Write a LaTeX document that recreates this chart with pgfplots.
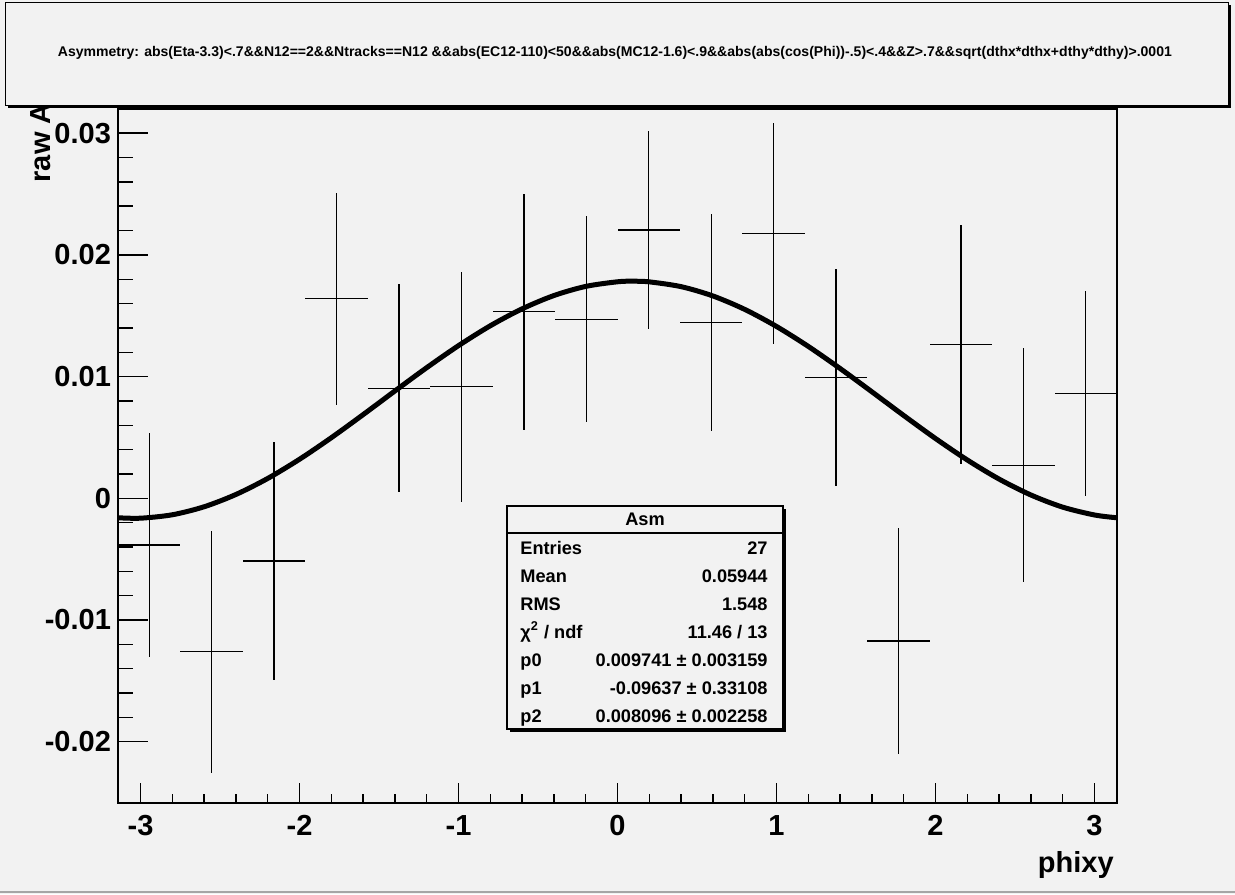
\documentclass[border=0pt]{standalone}
\usepackage{pgfplots}
\pgfplotsset{compat=1.18}
\usepackage{pgfplotstable}
\usepackage{graphicx}
\usepackage{fontspec}
\setmainfont{Liberation Sans}
\definecolor{bg}{RGB}{242,242,242}

\pgfplotstableread{
x y ex ey
-2.9452 -0.00384 0.19635 0.00918
-2.5525 -0.01260 0.19635 0.00994
-2.1598 -0.00515 0.19635 0.00980
-1.7671 0.01639 0.19635 0.00869
-1.3744 0.00904 0.19635 0.00855
-0.9817 0.00917 0.19635 0.00945
-0.5890 0.01533 0.19635 0.00970
-0.1963 0.01471 0.19635 0.00845
0.1963 0.02205 0.19635 0.00810
0.5890 0.01446 0.19635 0.00890
0.9817 0.02177 0.19635 0.00910
1.3744 0.00994 0.19635 0.00890
1.7671 -0.01173 0.19635 0.00930
2.1598 0.01265 0.19635 0.00980
2.5525 0.00271 0.19635 0.00960
2.9452 0.00863 0.19635 0.00843
}\asym

\pgfplotstableread{
x f
-3.1416 -0.001600
-3.0 -0.001635
-2.8 -0.001354
-2.6 -0.000696
-2.4 0.000314
-2.2 0.001631
-2.0 0.003208
-1.8 0.004979
-1.6 0.006875
-1.4 0.008820
-1.2 0.010735
-1.0 0.012545
-0.8 0.014178
-0.6 0.015568
-0.4 0.016661
-0.2 0.017412
0.0 0.017792
0.096 0.017837
0.2 0.017785
0.4 0.017392
0.6 0.016628
0.8 0.015524
1.0 0.014121
1.2 0.012481
1.4 0.010666
1.6 0.008750
1.8 0.006806
2.0 0.004913
2.2 0.003149
2.4 0.001578
2.6 0.000272
2.8 -0.000726
3.0 -0.001371
3.1416 -0.001600
}\fitcurve

\newcommand{\statfont}{\fontsize{9.1}{10}\selectfont\bfseries}
\newcommand{\labfont}{\fontsize{14.5}{17}\selectfont\bfseries}

\begin{document}
\begin{tikzpicture}[x=0.5pt,y=-0.5pt]
\useasboundingbox (0,0) rectangle (1235,894);
\fill[bg] (0,0) rectangle (1235,894);
\draw[black!35, line width=0.6pt] (0,892) -- (1235,892);

\begin{axis}[
  at={(59pt,-401.5pt)}, anchor=south west,
  width=499.5pt, height=347pt, scale only axis,
  xmin=-3.14159, xmax=3.14159, ymin=-0.02504, ymax=0.03199,
  axis background/.style={fill=bg},
  axis line style={line width=1pt},
  xtick={-3,-2,-1,0,1,2,3}, xticklabels={-3,-2,-1,0,1,2,3},
  ytick={-0.02,-0.01,0,0.01,0.02,0.03},
  yticklabels={-0.02,-0.01,0,0.01,0.02,0.03},
  minor x tick num=4, minor y tick num=4,
  tick align=inside, tick pos=left,
  xtick style={/pgfplots/major tick length=10pt,/pgfplots/minor tick length=4.5pt, line width=0.75pt, black},
  ytick style={/pgfplots/major tick length=15pt,/pgfplots/minor tick length=7.5pt, line width=0.75pt, black},
  ticklabel style={font=\labfont},
  xticklabel style={yshift=-2.5pt},
  scaled y ticks=false,
]
\addplot[black, draw=none, mark=none,
  error bars/.cd, x dir=both, x explicit, y dir=both, y explicit,
  error mark=none, error bar style={draw=black, line width=0.65pt}]
  table[x=x, y=y, x error=ex, y error=ey]{\asym};
\addplot[black, line width=2.5pt, smooth, mark=none] table[x=x, y=f]{\fitcurve};
\end{axis}

% axis titles
\node[rotate=90, anchor=base east, font=\labfont, inner sep=0pt] at (50,103) {raw A};
\node[anchor=base east, font=\labfont, inner sep=0pt] at (1114,872) {phixy};

% title box
\fill[black] (8,5) rectangle (1231,108);
\draw[fill=bg, line width=0.5pt] (5,2) rectangle (1228,105);
\node[inner sep=0pt] at (615,53) {\resizebox{557pt}{!}{\bfseries Asymmetry: abs(Eta-3.3)<.7\&\&N12==2\&\&Ntracks==N12 \&\&abs(EC12-110)<50\&\&abs(MC12-1.6)<.9\&\&abs(abs(cos(Phi))-.5)<.4\&\&Z>.7\&\&sqrt(dthx*dthx+dthy*dthy)>.0001}};

% stats box
\fill[black] (510,509) rectangle (786,732);
\draw[fill=bg, line width=0.6pt] (507,506) rectangle (783,729);
\draw[line width=0.6pt] (507,533) -- (783,533);
\node[font=\statfont, inner sep=0pt, anchor=base] at (645,525) {Asm};
\begin{scope}[every node/.style={font=\statfont, inner sep=0pt}]
\node[anchor=base west] at (520,554) {Entries}; \node[anchor=base east] at (768,554) {27};
\node[anchor=base west] at (520,582) {Mean}; \node[anchor=base east] at (768,582) {0.05944};
\node[anchor=base west] at (520,610) {RMS}; \node[anchor=base east] at (768,610) {1.548};
\node[anchor=base west] at (520,638) {χ\textsuperscript{2} / ndf}; \node[anchor=base east] at (768,638) {11.46 / 13};
\node[anchor=base west] at (520,666) {p0}; \node[anchor=base east] at (768,666) {0.009741 ± 0.003159};
\node[anchor=base west] at (520,694) {p1}; \node[anchor=base east] at (768,694) {-0.09637 ± 0.33108};
\node[anchor=base west] at (520,722) {p2}; \node[anchor=base east] at (768,722) {0.008096 ± 0.002258};
\end{scope}
\end{tikzpicture}
\end{document}
